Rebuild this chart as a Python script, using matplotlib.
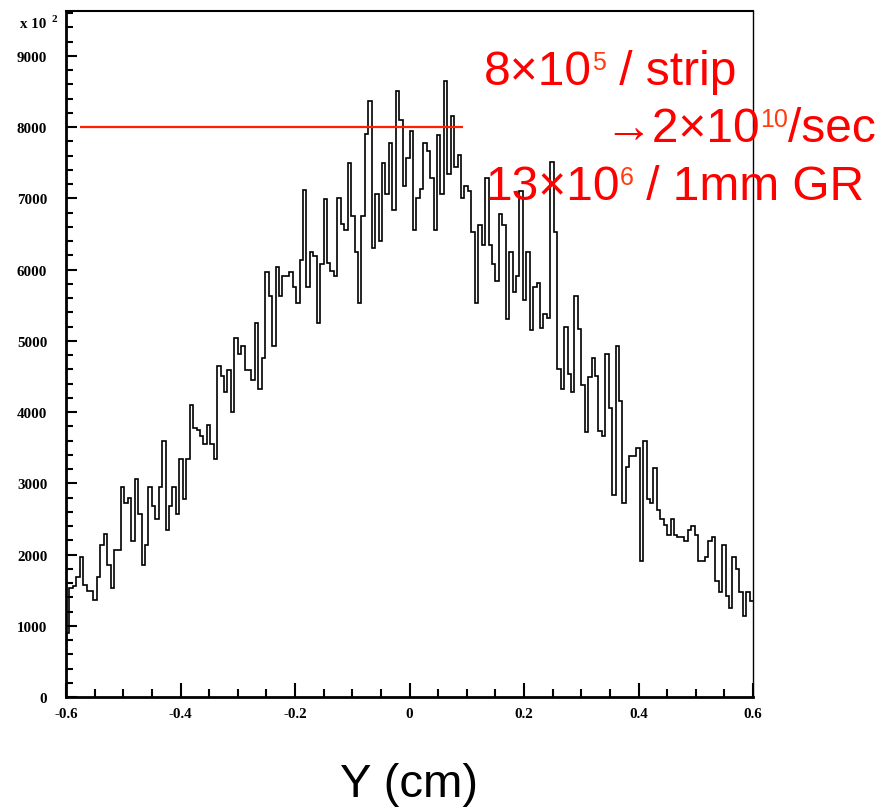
import matplotlib
matplotlib.use("Agg")
import matplotlib.pyplot as plt
import numpy as np
from matplotlib.ticker import MultipleLocator

# histogram contents (units of 10^2), 200 bins from -0.6 to 0.6 cm
counts = [
    905, 1535, 1560, 1690, 1970, 1570, 1485, 1485, 1355, 1690,
    2130, 2290, 1855, 1530, 2065, 2065, 2945, 2725, 2795, 2185,
    3060, 2565, 1855, 2130, 2945, 2680, 2505, 2945, 3600, 2345,
    2680, 2945, 2565, 3340, 2785, 3340, 4100, 3775, 3750, 3665,
    3555, 3820, 3555, 3340, 4650, 4500, 4275, 4590, 3995, 5035,
    4815, 4930, 4590, 4590, 4445, 5255, 4320, 4755, 5970, 5630,
    4930, 6030, 5630, 5910, 5910, 5970, 5760, 5525, 6130, 7120,
    5760, 6250, 6190, 5255, 6085, 6995, 6090, 5985, 5910, 7010,
    6635, 6560, 7500, 6750, 6250, 5525, 6750, 7905, 8370, 6310,
    7065, 6405, 7500, 7065, 7780, 6840, 8500, 8100, 7180, 7570,
    7945, 6560, 7010, 7135, 7780, 7665, 7290, 6560, 7895, 7065,
    8650, 7335, 8160, 7440, 7610, 7010, 7180, 7110, 6530, 5535,
    6620, 6340, 7285, 6340, 6085, 5845, 6785, 6620, 5305, 6250,
    5690, 5910, 7110, 5580, 6250, 5150, 5750, 5815, 5185, 5375,
    5315, 7505, 6530, 4600, 4320, 5190, 4535, 4275, 5630, 5160,
    4380, 3715, 4490, 4755, 4500, 3730, 3660, 4815, 4055, 2840,
    4930, 4160, 2725, 3230, 3380, 3380, 3495, 1910, 3600, 2780,
    2725, 3220, 2625, 2500, 2410, 2280, 2500, 2280, 2250, 2250,
    2190, 2345, 2400, 2280, 1910, 1910, 1970, 2190, 2250, 1630,
    1475, 2130, 1420, 1255, 1970, 1800, 1475, 1140, 1475, 1350,
]
x_lo, x_hi = -0.6, 0.6
y_max = 9630
xticks = [-0.6, -0.4, -0.2, 0, 0.2, 0.4, 0.6]
xtick_labels = ["-0.6", "-0.4", "-0.2", "0", "0.2", "0.4", "0.6"]
yticks = [0, 1000, 2000, 3000, 4000, 5000, 6000, 7000, 8000, 9000]
ytick_labels = [str(v) for v in yticks]
rate_level = 8000
rate_span = (-0.575, 0.093)

W, H = 889, 812
plt.rcParams['axes.unicode_minus'] = False

fig = plt.figure(figsize=(W / 100, H / 100), dpi=100)
ax = fig.add_axes([66 / W, (H - 698) / H, 687 / W, 686 / H])

edges = np.linspace(x_lo, x_hi, len(counts) + 1)
ax.stairs(counts, edges, color='black', lw=1.2, baseline=None)
ax.hlines(rate_level, rate_span[0], rate_span[1], color='#ff2000', lw=1.6)

ax.set_xlim(x_lo, x_hi)
ax.set_ylim(0, y_max)
ax.set_xticks(xticks)
ax.set_xticklabels(xtick_labels)
ax.set_yticks(yticks)
ax.set_yticklabels(ytick_labels)
ax.xaxis.set_minor_locator(MultipleLocator(0.05))
ax.yaxis.set_minor_locator(MultipleLocator(200))

ax.tick_params(which='both', direction='in', top=False, right=False, width=1.5)
ax.tick_params(axis='x', which='major', length=10, pad=7)
ax.tick_params(axis='x', which='minor', length=6)
ax.tick_params(axis='y', which='major', length=8, pad=13.5)
ax.tick_params(axis='y', which='minor', length=5)
for lab in ax.get_xticklabels() + ax.get_yticklabels():
    lab.set_family('Liberation Serif')
    lab.set_weight('bold')
    lab.set_fontsize(10.8)

ax.spines['left'].set_linewidth(2)
ax.spines['bottom'].set_linewidth(2)
ax.spines['top'].set_linewidth(1.5)
ax.spines['right'].set_linewidth(1)

# "x 10^2" multiplier
fig.text(20 / W, 1 - 28 / H, "x 10", family='Liberation Serif', weight='bold',
         fontsize=10.8, va='baseline')
fig.text(52 / W, 1 - 22 / H, "2", family='Liberation Serif', weight='bold',
         fontsize=8, va='baseline')

fig.text(409 / W, 1 - 785 / H, "Y (cm)", family='Liberation Sans', fontsize=34,
         ha='center', va='center')

# red rate annotations, pieces chained left to right
sans = ['Liberation Sans', 'DejaVu Sans']
red, sup = '#ff0000', '#ff3c10'


def chain(x0, base, parts):
    r = fig.canvas.get_renderer()
    x = x0
    for s, size, color, rise in parts:
        t = fig.text(x / W, 1 - (base - rise) / H, s, family=sans, fontsize=size,
                     color=color, va='baseline', ha='left')
        x = t.get_window_extent(r).x1


big, small = 34.5, 18
chain(484, 85, [("8×10", big, red, 0), ("5", small, sup, 15), (" / strip", big, red, 0)])
chain(604, 142, [("→2×10", big, red, 0), ("10", small, sup, 15), ("/sec", big, red, 0)])
chain(485, 200, [("13×10", big, red, 0), ("6", small, sup, 15), (" / 1mm GR", big, red, 0)])

fig.savefig("out.png", dpi=100)
